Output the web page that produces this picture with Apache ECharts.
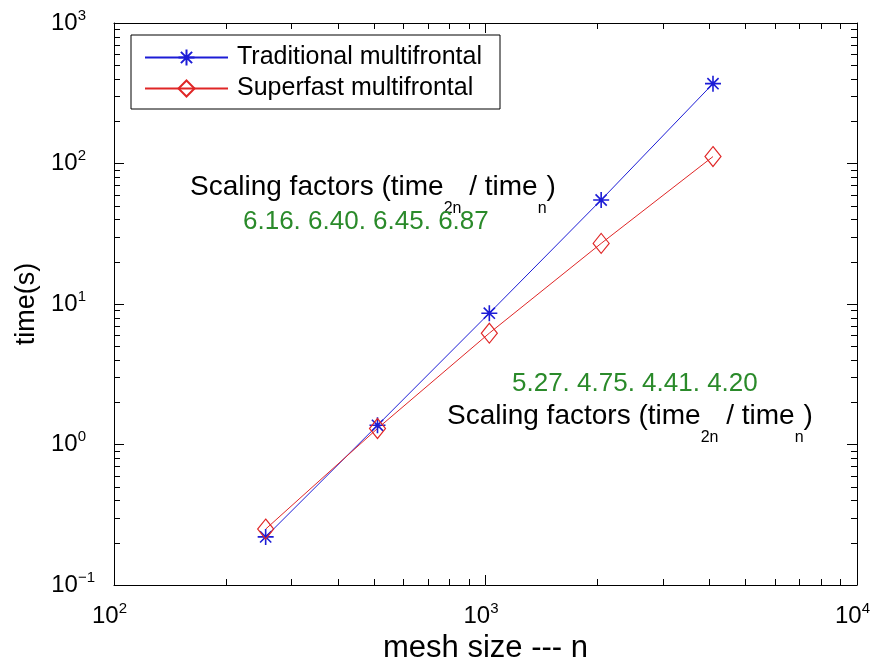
<!DOCTYPE html>
<html><head><meta charset="utf-8">
<script src="https://cdn.jsdelivr.net/npm/echarts@6/dist/echarts.min.js"></script>
<style>html,body{margin:0;padding:0;background:#fff}#c{width:881px;height:662px}</style>
</head><body><div id="c"></div>
<script>
const meshSizes = [256, 512, 1024, 2048, 4096];
const traditionalTimes = [0.22, 1.37, 8.6, 55, 370];
const superfastTimes = [0.25, 1.3, 6.2, 27, 112];
const seriesNames = ['Traditional multifrontal', 'Superfast multifrontal'];
const xTickValues = [100, 1000, 10000];
const xTickExponents = ['2', '3', '4'];
const yTickValues = [0.1, 1, 10, 100, 1000];
const yTickExponents = ['\u22121', '0', '1', '2', '3'];
const traditionalFactors = '6.16. 6.40. 6.45. 6.87';
const superfastFactors = '5.27. 4.75. 4.41. 4.20';
const xLabel = 'mesh size --- n';
const yLabel = 'time(s)';

const FONT = 'Liberation Sans, Arial, Helvetica, sans-serif';
const BLUE = '#1c1cd6';
const RED = '#e02626';
const GREEN = '#2a8a2a';

function minorValues(decades) {
  const out = [];
  decades.forEach(function (d) { for (let k = 2; k <= 9; k++) out.push(d * k); });
  return out;
}
const xMinor = minorValues([100, 1000]);
const yMinor = minorValues([0.1, 1, 10, 100]);

function expLabel(values, exps) {
  return function (v) {
    let i = values.findIndex(function (t) { return Math.abs(Math.log10(t) - Math.log10(v)) < 1e-6; });
    if (i < 0) return '';
    const style = exps[i].length > 1 ? 's2' : 's1';
    return '{b|10}{' + style + '|' + exps[i] + '}';
  };
}
const labelRich = {
  b: { fontSize: 24, fontFamily: FONT, color: '#000', lineHeight: 30 },
  s1: { fontSize: 15, fontFamily: FONT, color: '#000', lineHeight: 14, verticalAlign: 'top', padding: [0, 9, 0, 0] },
  s2: { fontSize: 15, fontFamily: FONT, color: '#000', lineHeight: 14, verticalAlign: 'top' }
};

function axisBase(extra) {
  return Object.assign({
    type: 'log', logBase: 10,
    axisLine: { show: true, onZero: false, lineStyle: { color: '#000', width: 1 } },
    axisTick: { show: true, inside: true, length: 10, lineStyle: { color: '#000', width: 1 } },
    splitLine: { show: false },
    minorTick: { show: false },
    minorSplitLine: { show: false }
  }, extra);
}

function minorTickSeries(values, dir) {
  return {
    type: 'custom', silent: true, xAxisIndex: 0, yAxisIndex: 0, z: 5,
    tooltip: { show: false },
    data: values.map(function (v) { return dir === 'x' ? [v, 1] : [1000, v]; }),
    renderItem: function (params, api) {
      const cs = params.coordSys;
      const L = 6;
      const st = { stroke: '#000', lineWidth: 1 };
      if (dir === 'x') {
        const p = api.coord([api.value(0), 1]);
        const x = Math.round(p[0]) + 0.5;
        return { type: 'group', children: [
          { type: 'line', shape: { x1: x, y1: cs.y + cs.height, x2: x, y2: cs.y + cs.height - L }, style: st },
          { type: 'line', shape: { x1: x, y1: cs.y, x2: x, y2: cs.y + L }, style: st }
        ] };
      } else {
        const p = api.coord([1000, api.value(1)]);
        const y = Math.round(p[1]) + 0.5;
        return { type: 'group', children: [
          { type: 'line', shape: { x1: cs.x, y1: y, x2: cs.x + L, y2: y }, style: st },
          { type: 'line', shape: { x1: cs.x + cs.width, y1: y, x2: cs.x + cs.width - L, y2: y }, style: st }
        ] };
      }
    }
  };
}

const asterisk = 'path://M0,5L10,5M5,0L5,10M1.5,1.5L8.5,8.5M1.5,8.5L8.5,1.5';

const annotRich = {
  a: { fontSize: 28, fontFamily: FONT, lineHeight: 60, fill: '#000' },
  s: { fontSize: 16, fontFamily: FONT, lineHeight: 12, verticalAlign: 'bottom', fill: '#000' }
};
const annotText = '{a|Scaling factors (time}{s|2n}{a| / time}{s|n}{a|)}';

const chart = echarts.init(document.getElementById('c'), null, { renderer: 'canvas' });
chart.setOption({
  backgroundColor: '#fff',
  animation: false,
  grid: { left: 114, right: 24, top: 23, bottom: 77, show: false, containLabel: false, outerBoundsMode: 'none' },
  xAxis: [
    axisBase({
      position: 'bottom', min: 100, max: 10000,
      name: xLabel, nameLocation: 'middle', nameGap: 46,
      nameTextStyle: { fontSize: 31, fontFamily: FONT, color: '#000' },
      axisLabel: { show: true, margin: 16, formatter: expLabel(xTickValues, xTickExponents), rich: labelRich }
    }),
    axisBase({ position: 'top', min: 100, max: 10000, axisLabel: { show: false } })
  ],
  yAxis: [
    axisBase({
      position: 'left', min: 0.1, max: 1000,
      name: yLabel, nameLocation: 'middle', nameGap: 70, nameRotate: 90,
      nameTextStyle: { fontSize: 27, fontFamily: FONT, color: '#000' },
      axisLabel: { show: true, margin: 19, formatter: expLabel(yTickValues, yTickExponents), rich: labelRich }
    }),
    axisBase({ position: 'right', min: 0.1, max: 1000, axisLabel: { show: false } })
  ],
  legend: {
    data: seriesNames,
    orient: 'vertical',
    left: 131, top: 35,
    borderColor: '#000', borderWidth: 1, borderRadius: 0,
    backgroundColor: '#fff',
    padding: [10, 18, 8, 13],
    itemGap: 6,
    itemWidth: 83, itemHeight: 20,
    textStyle: { fontSize: 25, fontFamily: FONT, color: '#000', padding: [0, 0, 0, 4] }
  },
  series: [
    {
      name: seriesNames[0], type: 'line', xAxisIndex: 0, yAxisIndex: 0, z: 3,
      data: meshSizes.map(function (n, i) { return [n, traditionalTimes[i]]; }),
      symbol: asterisk, symbolSize: 16,
      itemStyle: { color: 'rgba(0,0,0,0)', borderColor: BLUE, borderWidth: 1.6 },
      lineStyle: { color: BLUE, width: 1 }
    },
    {
      name: seriesNames[1], type: 'line', xAxisIndex: 0, yAxisIndex: 0, z: 3,
      data: meshSizes.map(function (n, i) { return [n, superfastTimes[i]]; }),
      symbol: 'diamond', symbolSize: [16, 20],
      itemStyle: { color: 'rgba(0,0,0,0)', borderColor: RED, borderWidth: 1.2 },
      lineStyle: { color: RED, width: 1 }
    },
    minorTickSeries(xMinor, 'x'),
    minorTickSeries(yMinor, 'y')
  ],
  graphic: [
    {
      type: 'text', left: 190, top: 173, silent: true,
      style: { text: annotText, fill: '#000', rich: annotRich }
    },
    {
      type: 'text', left: 243, top: 209, silent: true,
      style: { text: traditionalFactors, fill: GREEN, font: '26px ' + FONT }
    },
    {
      type: 'text', left: 512, top: 371, silent: true,
      style: { text: superfastFactors, fill: GREEN, font: '26px ' + FONT }
    },
    {
      type: 'text', left: 447, top: 402, silent: true,
      style: { text: annotText, fill: '#000', rich: annotRich }
    }
  ]
});
</script>
</body></html>
